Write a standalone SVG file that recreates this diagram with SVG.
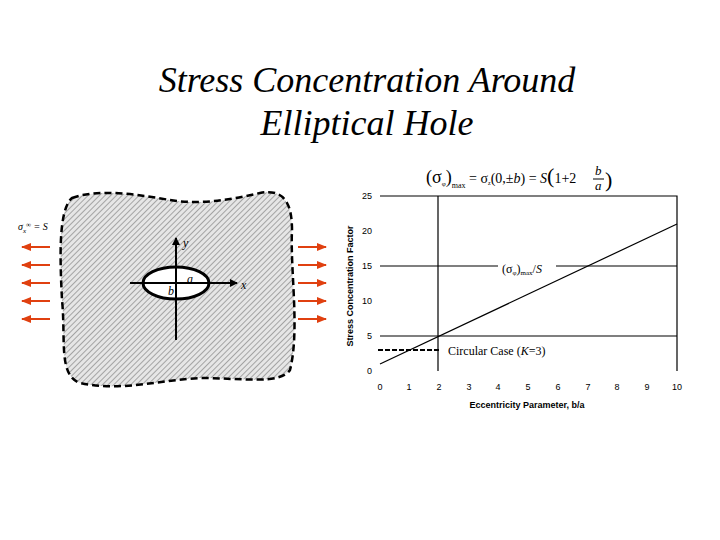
<svg xmlns="http://www.w3.org/2000/svg" width="720" height="540" viewBox="0 0 720 540">
<style>
.t{font-family:"Liberation Serif",serif;font-style:italic}
.s{font-family:"Liberation Serif",serif}
.a{font-family:"Liberation Sans",sans-serif;font-size:9px}
.g{stroke:#000;stroke-width:1.2;fill:none}
.ar{stroke:#e04010;stroke-width:2;marker-end:url(#ah)}
</style>
<defs>
<pattern id="h" width="4" height="4" patternUnits="userSpaceOnUse" patternTransform="rotate(45)">
<rect width="4" height="4" fill="#e6e6e6"/><line x1="0" y1="0" x2="0" y2="4" stroke="#888" stroke-width="1.4"/>
</pattern>
<marker id="ah" markerWidth="10" markerHeight="8" refX="9" refY="4" orient="auto" markerUnits="userSpaceOnUse"><path d="M0,0L10,4L0,8z" fill="#e04010"/></marker>
<marker id="bh" markerWidth="8" markerHeight="8" refX="7" refY="4" orient="auto" markerUnits="userSpaceOnUse"><path d="M0,0L8,4L0,8z" fill="#000"/></marker>
</defs>
<text class="t" x="367" y="92" font-size="36" text-anchor="middle">Stress Concentration Around</text>
<text class="t" x="367" y="135" font-size="36" text-anchor="middle">Elliptical Hole</text>
<g id="plate">
<path d="M72,198 C100,188 140,195 170,200 C200,205 230,200 260,193 C285,188 292,205 292,230 C290,270 300,330 290,370 C280,385 240,378 200,378 C160,380 120,392 80,383 C58,375 66,340 62,300 C60,260 58,210 72,198 Z" fill="url(#h)" stroke="#000" stroke-width="2.5" stroke-dasharray="7,4"/>
<ellipse cx="176" cy="283" rx="33" ry="16" fill="#fff" stroke="#000" stroke-width="3"/>
<line x1="176" y1="340" x2="176" y2="238" stroke="#000" stroke-width="2" marker-end="url(#bh)"/>
<line x1="130" y1="283" x2="237" y2="283" stroke="#000" stroke-width="2" marker-end="url(#bh)"/>
<text class="t" x="183" y="247" font-size="12">y</text>
<text class="t" x="241" y="289" font-size="12">x</text>
<text class="t" x="187" y="283" font-size="12">a</text>
<text class="t" x="168" y="295" font-size="12">b</text>
</g>
<g id="loads">
<text class="t" x="18" y="230" font-size="10">σ<tspan font-size="7" dy="3">x</tspan><tspan font-size="7" dy="-6">∞</tspan><tspan dy="3"> = S</tspan></text>
<line class="ar" x1="50" y1="247" x2="22" y2="247"/><line class="ar" x1="50" y1="265" x2="22" y2="265"/><line class="ar" x1="50" y1="283" x2="22" y2="283"/><line class="ar" x1="50" y1="301" x2="22" y2="301"/><line class="ar" x1="50" y1="319" x2="22" y2="319"/>
<line class="ar" x1="298" y1="247" x2="326" y2="247"/><line class="ar" x1="298" y1="265" x2="326" y2="265"/><line class="ar" x1="298" y1="283" x2="326" y2="283"/><line class="ar" x1="298" y1="301" x2="326" y2="301"/><line class="ar" x1="298" y1="319" x2="326" y2="319"/>
</g>
<g id="chart">
<text class="s" x="426" y="183" font-size="18">(σ<tspan font-size="7" dy="3">φ</tspan><tspan dy="-3">)</tspan><tspan font-size="8" dy="5">max</tspan><tspan font-size="14" dy="-5"> = σ</tspan><tspan font-size="6" dy="2">z</tspan><tspan font-size="14" dy="-2">(0,±</tspan><tspan font-size="14" font-style="italic">b</tspan><tspan font-size="14">) = </tspan><tspan font-size="14" font-style="italic">S</tspan><tspan font-size="22">(</tspan><tspan font-size="14">1+2</tspan></text>
<text class="t" x="595" y="175" font-size="13">b</text>
<line x1="593" y1="179" x2="604" y2="179" stroke="#000"/>
<text class="t" x="595" y="190" font-size="13">a</text>
<text class="s" x="605" y="187" font-size="22">)</text>
<path class="g" d="M380,196H677V371M380,266H677M380,336H677M438,196V371"/>
<line x1="380" y1="364" x2="677" y2="224" stroke="#000" stroke-width="1.2"/>
<rect x="498" y="258" width="58" height="20" fill="#fff"/>
<text class="s" x="502" y="273" font-size="12">(σ<tspan font-size="7" dy="2">φ</tspan><tspan dy="-2">)</tspan><tspan font-size="7" dy="2">max</tspan><tspan dy="-2">/</tspan><tspan font-style="italic">S</tspan></text>
<line x1="378" y1="350" x2="440" y2="350" stroke="#000" stroke-width="2" stroke-dasharray="5,2"/>
<text class="s" x="448" y="355" font-size="12">Circular Case (<tspan font-style="italic">K</tspan>=3)</text>
<g class="a" text-anchor="end"><text x="372" y="199">25</text><text x="372" y="234">20</text><text x="372" y="269">15</text><text x="372" y="304">10</text><text x="372" y="339">5</text><text x="372" y="374">0</text></g>
<g class="a" text-anchor="middle"><text x="380" y="390">0</text><text x="409" y="390">1</text><text x="439" y="390">2</text><text x="469" y="390">3</text><text x="498" y="390">4</text><text x="528" y="390">5</text><text x="558" y="390">6</text><text x="588" y="390">7</text><text x="617" y="390">8</text><text x="647" y="390">9</text><text x="677" y="390">10</text></g>
<text class="a" x="527" y="408" text-anchor="middle" font-weight="bold" font-size="9">Eccentricity Parameter, b/a</text>
<text class="a" transform="translate(353,286) rotate(-90)" text-anchor="middle" font-weight="bold">Stress Concentration Factor</text>
</g>
</svg>
